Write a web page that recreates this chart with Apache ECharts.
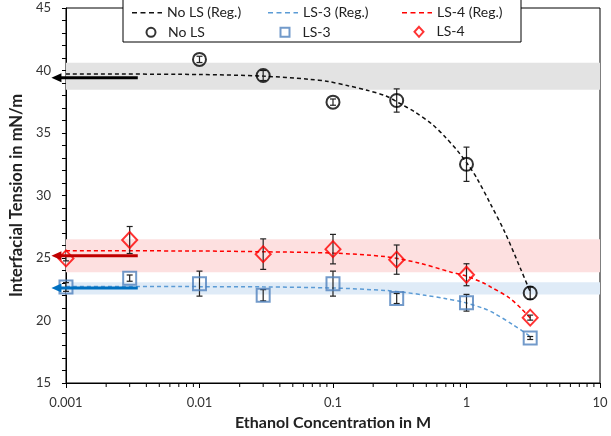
<!DOCTYPE html>
<html><head><meta charset="utf-8">
<script src="https://cdn.jsdelivr.net/npm/echarts@6/dist/echarts.min.js"></script>
<style>html,body{margin:0;padding:0;background:#fff}#c{width:611px;height:436px}</style>
</head><body><div id="c"></div>
<script>
// ---- data ----
const xTickLabels = ['0.001', '0.01', '0.1', '1', '10'];

const noLsX = [0.01, 0.03, 0.1, 0.3, 1, 3];
const noLsY = [40.89, 39.6, 37.47, 37.6, 32.5, 22.2];
const noLsErr = [0.25, 0.4, 0.25, 0.93, 1.37, 0.5];

const ls3X = [0.001, 0.003, 0.01, 0.03, 0.1, 0.3, 1, 3];
const ls3Y = [22.68, 23.39, 22.95, 22.02, 22.95, 21.76, 21.42, 18.6];
const ls3Err = [0.35, 0.25, 1.0, 0.45, 1.0, 0.4, 0.67, 0.12];

const ls4X = [0.001, 0.003, 0.03, 0.1, 0.3, 1, 3];
const ls4Y = [24.97, 26.44, 25.31, 25.71, 24.87, 23.66, 20.23];
const ls4Err = [0.2, 1.08, 1.22, 1.18, 1.17, 0.88, 0.2];

const noLsRegX = [0.001, 0.01, 0.03, 0.066, 0.092, 0.13, 0.18, 0.25, 0.31, 0.41, 0.55, 0.69, 0.86, 1.03, 1.2, 1.5, 1.95, 2.55, 3.0];
const noLsRegY = [39.73, 39.68, 39.55, 39.3, 39.12, 38.78, 38.42, 37.96, 37.42, 36.68, 35.72, 34.7, 33.55, 32.45, 31.35, 29.4, 27.0, 24.1, 22.3];

const ls3RegX = [0.001, 0.01, 0.03, 0.1, 0.25, 0.35, 0.49, 0.69, 0.96, 1.34, 1.6, 2.23, 3.0];
const ls3RegY = [22.73, 22.71, 22.69, 22.6, 22.4, 22.24, 22.02, 21.76, 21.45, 20.97, 20.6, 19.66, 18.73];

const ls4RegX = [0.001, 0.01, 0.03, 0.1, 0.25, 0.44, 0.77, 1.0, 1.34, 1.51, 2.1, 2.6, 3.0];
const ls4RegY = [25.58, 25.56, 25.5, 25.39, 25.1, 24.6, 23.86, 23.55, 23.0, 22.7, 21.8, 20.9, 20.2];

// reference bands (low, high) for No LS, LS-4, LS-3
const bandLow = [38.47, 23.86, 22.08];
const bandHigh = [40.63, 26.5, 23.07];

// arrows: start x, end x, y
const arrowXStart = [0.00345, 0.00345, 0.00345];
const arrowXEnd = [0.000778, 0.000778, 0.000778];
const arrowY = [39.43, 25.18, 22.6];

// x minor tick multipliers
const minorMult = [2, 3, 4, 5, 6, 7, 8, 9];
const decades = [0.001, 0.01, 0.1, 1];

// ---- styles ----
const FONT = 'Lato';
const cBlack = '#000000', cBlue = '#4f81bd', cBlueLine = '#5b9bd5', cRed = '#ff0000';
const bandColors = ['#e3e3e3', '#fde0e0', '#dfebf7'];
const arrowColors = ['#000000', '#c00000', '#0070c0'];
const dashIcon = 'path://M0,0h5v1.6h-5z M8.5,0h5v1.6h-5z M17,0h5v1.6h-5z M25.5,0h4.5v1.6h-4.5z';

const pairs = (xs, ys) => xs.map((x, i) => [x, ys[i]]);
const triples = (xs, ys, es) => xs.map((x, i) => [x, ys[i], es[i]]);

function errSeries(xs, ys, es) {
  return {
    type: 'custom', silent: true, z: 3,
    encode: { x: 0, y: 1 },
    renderItem: function (params, api) {
      const x = api.value(0), y = api.value(1), e = api.value(2);
      const t = api.coord([x, y + e]), b = api.coord([x, y - e]);
      const w = 3, st = { stroke: '#222', lineWidth: 1.2 };
      return { type: 'group', children: [
        { type: 'line', shape: { x1: t[0], y1: t[1], x2: b[0], y2: b[1] }, style: st },
        { type: 'line', shape: { x1: t[0] - w, y1: t[1], x2: t[0] + w, y2: t[1] }, style: st },
        { type: 'line', shape: { x1: b[0] - w, y1: b[1], x2: b[0] + w, y2: b[1] }, style: st }
      ] };
    },
    data: triples(xs, ys, es)
  };
}

const minorTickData = [];
decades.forEach(d => minorMult.forEach(m => minorTickData.push([d * m, 15])));

const bandData = bandLow.map((lo, i) => [
  { yAxis: lo, itemStyle: { color: bandColors[i] } },
  { yAxis: bandHigh[i] }
]);

const regLine = (name, xs, ys, color) => ({
  name: name, type: 'line', data: pairs(xs, ys), symbol: 'none', smooth: 0.3,
  lineStyle: { color: color, width: 1.5, type: [4, 3] }, itemStyle: { color: color },
  z: 2, silent: true
});

const chart = echarts.init(document.getElementById('c'), null, { renderer: 'canvas' });

const legendText = { fontFamily: FONT, fontSize: 14, color: '#222' };
const legends = [
  { data: [{ name: 'No LS (Reg.)', icon: dashIcon }], left: 132, top: 5.7, itemWidth: 30, itemHeight: 1.6, textStyle: legendText },
  { data: [{ name: 'LS-3 (Reg.)', icon: dashIcon }], left: 268, top: 5.7, itemWidth: 30, itemHeight: 1.6, textStyle: legendText },
  { data: [{ name: 'LS-4 (Reg.)', icon: dashIcon }], left: 402, top: 5.7, itemWidth: 30, itemHeight: 1.6, textStyle: legendText },
  { data: ['No LS'], left: 145.5, top: 25.3, itemWidth: 9, itemHeight: 9, textStyle: Object.assign({ padding: [0, 0, 0, 7.5] }, legendText) },
  { data: ['LS-3'], left: 279.5, top: 25.3, itemWidth: 9, itemHeight: 9, textStyle: Object.assign({ padding: [0, 0, 0, 8] }, legendText) },
  { data: ['LS-4'], left: 413.5, top: 24.8, itemWidth: 9, itemHeight: 10, textStyle: Object.assign({ padding: [0, 0, 0, 8] }, legendText) }
].map(l => Object.assign({ selectedMode: false, padding: 0, symbolKeepAspect: false }, l));

chart.setOption({
  animation: false,
  backgroundColor: '#fff',
  textStyle: { fontFamily: FONT },
  grid: { left: 50, right: 11, top: 8, bottom: 46, show: true, borderColor: '#000', borderWidth: 1 },
  legend: legends,
  graphic: [{
    type: 'rect', z: 3, silent: true,
    shape: { x: 123, y: -1, width: 398, height: 43 },
    style: { fill: '#fff', stroke: '#000', lineWidth: 1 }
  }],
  xAxis: {
    type: 'log', logBase: 10, min: 0.001, max: 10,
    name: 'Ethanol Concentration in M', nameLocation: 'middle', nameGap: 32,
    nameTextStyle: { fontFamily: FONT, fontSize: 16, fontWeight: 'bold', color: '#222' },
    axisLine: { lineStyle: { color: '#000', width: 1 } },
    axisTick: { show: true, inside: false, length: 5, lineStyle: { color: '#000' } },
    axisLabel: {
      margin: 13, fontFamily: FONT, fontSize: 13, color: '#333',
      formatter: v => xTickLabels[Math.round(Math.log10(v) + 3)]
    },
    splitLine: { show: false }
  },
  yAxis: {
    type: 'value', min: 15, max: 45, interval: 5,
    name: 'Interfacial Tension in mN/m', nameLocation: 'middle', nameGap: 32,
    nameTextStyle: { fontFamily: FONT, fontSize: 16.5, fontWeight: 'bold', color: '#222' },
    axisLine: { show: true, lineStyle: { color: '#000', width: 1 } },
    axisTick: { show: true, inside: false, length: 4, lineStyle: { color: '#000' } },
    minorTick: { show: true, splitNumber: 5, length: 4, lineStyle: { color: '#000' } },
    axisLabel: { margin: 15, fontFamily: FONT, fontSize: 13, color: '#333' },
    splitLine: { show: false }, minorSplitLine: { show: false }
  },
  series: [
    Object.assign(regLine('No LS (Reg.)', noLsRegX, noLsRegY, '#111'),
      { markArea: { silent: true, data: bandData } }),
    regLine('LS-3 (Reg.)', ls3RegX, ls3RegY, cBlueLine),
    regLine('LS-4 (Reg.)', ls4RegX, ls4RegY, cRed),
    errSeries(noLsX, noLsY, noLsErr),
    errSeries(ls3X, ls3Y, ls3Err),
    errSeries(ls4X, ls4Y, ls4Err),
    { name: 'No LS', type: 'scatter', data: pairs(noLsX, noLsY), symbol: 'circle', symbolSize: 13,
      itemStyle: { color: 'rgba(0,0,0,0)', borderColor: cBlack, borderWidth: 2 }, z: 4 },
    { name: 'LS-3', type: 'scatter', data: pairs(ls3X, ls3Y), symbol: 'rect', symbolSize: 13,
      itemStyle: { color: 'rgba(0,0,0,0)', borderColor: cBlue, borderWidth: 2 }, z: 4 },
    { name: 'LS-4', type: 'scatter', data: pairs(ls4X, ls4Y), symbol: 'diamond', symbolSize: [15, 16],
      itemStyle: { color: 'rgba(0,0,0,0)', borderColor: cRed, borderWidth: 2 }, z: 4 },
    { type: 'custom', silent: true, z: 5, clip: false,
      encode: { x: [0, 1], y: 2 },
      renderItem: function (params, api) {
        const i = params.dataIndex;
        const p0 = api.coord([api.value(0), api.value(2)]);
        const p1 = api.coord([api.value(1), api.value(2)]);
        const col = arrowColors[i], head = 10, hw = 4.5;
        return { type: 'group', children: [
          { type: 'line', shape: { x1: p0[0], y1: p0[1], x2: p1[0] + head - 1, y2: p1[1] }, style: { stroke: col, lineWidth: 3 } },
          { type: 'polygon', shape: { points: [[p1[0], p1[1]], [p1[0] + head, p1[1] - hw], [p1[0] + head, p1[1] + hw]] }, style: { fill: col } }
        ] };
      },
      data: arrowXStart.map((x, i) => [x, arrowXEnd[i], arrowY[i]])
    },
    { type: 'custom', silent: true, z: 5, clip: false,
      encode: { x: 0, y: 1 },
      renderItem: function (params, api) {
        const p = api.coord([api.value(0), api.value(1)]);
        return { type: 'line', shape: { x1: p[0], y1: p[1], x2: p[0], y2: p[1] + 4 }, style: { stroke: '#000', lineWidth: 1 } };
      },
      data: minorTickData
    }
  ]
});
</script>
</body></html>
